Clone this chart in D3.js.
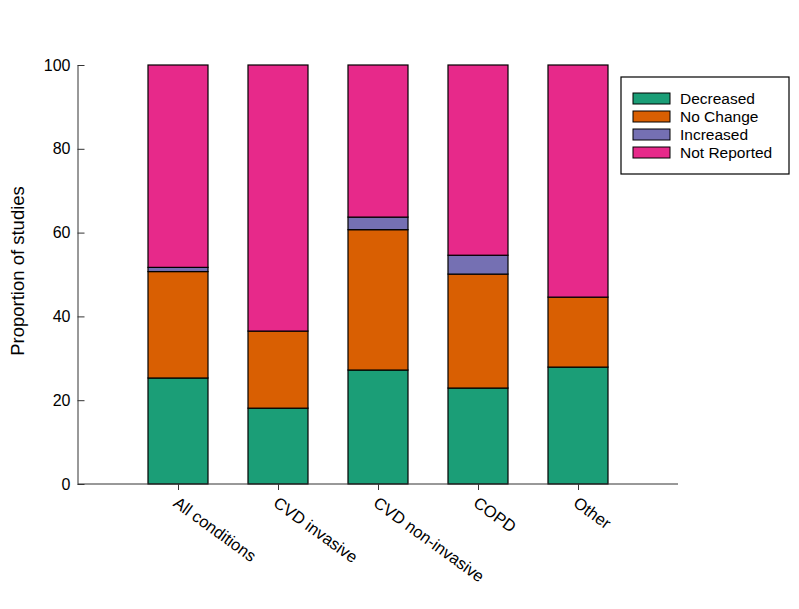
<!DOCTYPE html>
<html>
<head>
<meta charset="utf-8">
<script src="https://cdn.jsdelivr.net/npm/d3@7"></script>
<style>
body { margin: 0; background: #fff; }
text { font-family: Arial, "Liberation Sans", sans-serif; }
</style>
</head>
<body>
<svg id="chart" width="799" height="609"></svg>
<script>
var categories = ["All conditions", "CVD invasive", "CVD non-invasive", "COPD", "Other"];
var seriesNames = ["Decreased", "No Change", "Increased", "Not Reported"];
var decreased = [25.3, 18.1, 27.2, 22.9, 27.9];
var noChange = [25.4, 18.4, 33.5, 27.2, 16.7];
var increased = [1.0, 0, 3.0, 4.5, 0];
var colors = ["#1b9e77", "#d95f02", "#7570b3", "#e7298a"];
var yTicks = [0, 20, 40, 60, 80, 100];

var rows = categories.map(function (c, i) {
    var nr = 100 - decreased[i] - noChange[i] - increased[i];
    return { cat: c, "Decreased": decreased[i], "No Change": noChange[i], "Increased": increased[i], "Not Reported": nr };
});

var svg = d3.select("#chart");
var mLeft = 78, mRight = 678, mTop = 65, mBottom = 484;

var x = d3.scalePoint().domain(categories).range([mLeft, mRight]).padding(1);
var y = d3.scaleLinear().domain([0, 100]).range([mBottom, mTop]);
var color = d3.scaleOrdinal().domain(seriesNames).range(colors);
var barW = 60;

var stacked = d3.stack().keys(seriesNames)(rows);

svg.append("g").selectAll("g")
    .data(stacked)
    .join("g")
    .attr("fill", d => color(d.key))
    .selectAll("rect")
    .data(d => d.filter(p => p[1] - p[0] > 0))
    .join("rect")
    .attr("x", d => x(d.data.cat) - barW / 2)
    .attr("y", d => y(d[1]))
    .attr("width", barW)
    .attr("height", d => y(d[0]) - y(d[1]))
    .attr("stroke", "#000")
    .attr("stroke-width", 1.2);

// y axis, ticks point inward
var yAxis = svg.append("g")
    .attr("transform", "translate(" + (mLeft - 0.5) + ",0)")
    .call(d3.axisLeft(y).tickValues(yTicks).tickSize(-7).tickSizeOuter(0).tickPadding(7));
yAxis.select(".domain").attr("stroke", "#333");
yAxis.selectAll(".tick line").attr("stroke", "#333");
yAxis.selectAll("text").attr("font-size", 16).attr("fill", "#000");

// x axis
var xAxis = svg.append("g")
    .attr("transform", "translate(0," + mBottom + ")")
    .call(d3.axisBottom(x).tickSize(6).tickSizeOuter(0).tickFormat(""));
xAxis.select(".domain").attr("d", "M" + mLeft + ",0H" + mRight).attr("stroke", "#333");
xAxis.selectAll(".tick line").attr("stroke", "#333");

svg.append("g").selectAll("text")
    .data(categories)
    .join("text")
    .attr("transform", d => "translate(" + (x(d) + 1) + "," + (mBottom + 12) + ") rotate(36)")
    .attr("font-size", 16.5)
    .attr("dy", "0.7em")
    .text(d => d);

svg.append("text")
    .attr("transform", "translate(24,271) rotate(-90)")
    .attr("text-anchor", "middle")
    .attr("font-size", 18.5)
    .text("Proportion of studies");

// legend
var lg = svg.append("g").attr("transform", "translate(621,77)");
lg.append("rect").attr("width", 168).attr("height", 97)
    .attr("fill", "#fff").attr("stroke", "#000").attr("stroke-width", 1.2);
var items = lg.selectAll("g").data(seriesNames).join("g")
    .attr("transform", (d, i) => "translate(12," + (16 + i * 18) + ")");
items.append("rect").attr("width", 37).attr("height", 11)
    .attr("fill", d => color(d)).attr("stroke", "#000").attr("stroke-width", 1);
items.append("text").attr("x", 47).attr("y", 5.5).attr("dy", "0.35em")
    .attr("font-size", 15.5).text(d => d);
</script>
</body>
</html>
